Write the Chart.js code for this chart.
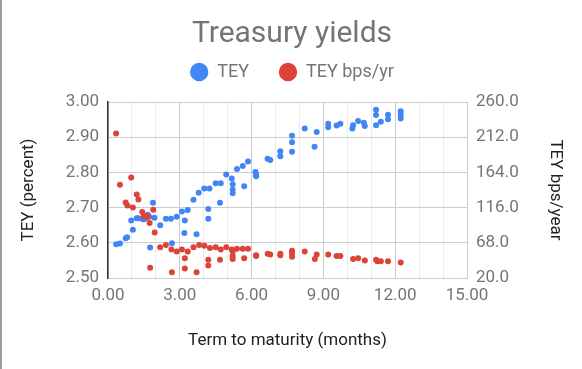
<!DOCTYPE html>
<html>
<head>
<meta charset="utf-8">
<script src="https://cdn.jsdelivr.net/npm/chart.js@4"></script>
<style>
  html, body { margin: 0; padding: 0; background: #fff; }
  #wrap { width: 582px; height: 369px; position: relative; box-sizing: border-box; border-left: 2px solid #9e9e9e; }
</style>
</head>
<body>
<div id="wrap"><canvas id="yieldChart" width="580" height="369"></canvas></div>
<script>
// term to maturity (months) and TEY (percent)
var teyTerm = [0.34, 0.50, 0.74, 0.80, 0.97, 1.04, 1.20, 1.27, 1.46, 1.51, 1.58, 1.66, 1.72, 1.76, 1.88, 1.94,
  2.18, 2.42, 2.63, 2.67, 2.87, 3.09, 3.19, 3.21, 3.33, 3.57, 3.70, 3.79, 4.02, 4.19, 4.19, 4.24, 4.50, 4.68,
  4.71, 4.94, 5.17, 5.21, 5.21, 5.21, 5.39, 5.63, 5.69, 5.85, 6.16, 6.19, 6.19, 6.67, 6.78, 7.20, 7.20, 7.69,
  7.69, 7.69, 8.22, 8.63, 8.72, 9.20, 9.20, 9.55, 9.71, 10.21, 10.24, 10.45, 10.69, 10.73, 11.20, 11.20, 11.20,
  11.40, 11.70, 11.70, 12.23, 12.23, 12.23];
var teyValue = [2.596, 2.598, 2.613, 2.616, 2.663, 2.637, 2.670, 2.670, 2.667, 2.667, 2.670, 2.680, 2.674, 2.587, 2.714, 2.671,
  2.650, 2.668, 2.668, 2.599, 2.674, 2.689, 2.628, 2.663, 2.693, 2.722, 2.624, 2.742, 2.754, 2.696, 2.668, 2.754, 2.769, 2.714,
  2.769, 2.794, 2.783, 2.766, 2.751, 2.741, 2.810, 2.818, 2.761, 2.831, 2.801, 2.794, 2.789, 2.839, 2.835, 2.860, 2.846, 2.904,
  2.886, 2.859, 2.925, 2.873, 2.915, 2.938, 2.928, 2.933, 2.938, 2.925, 2.934, 2.946, 2.941, 2.932, 2.978, 2.963, 2.934,
  2.944, 2.964, 2.951, 2.974, 2.963, 2.953];

// term to maturity (months) and TEY bps/yr
var bpsTerm = [0.34, 0.50, 0.74, 0.81, 0.97, 1.04, 1.20, 1.27, 1.43, 1.50, 1.58, 1.66, 1.74, 1.76, 1.89, 1.95,
  2.18, 2.42, 2.65, 2.67, 2.87, 3.09, 3.21, 3.21, 3.33, 3.57, 3.70, 3.81, 4.03, 4.19, 4.19, 4.26, 4.50, 4.68,
  4.71, 4.94, 5.17, 5.21, 5.21, 5.21, 5.39, 5.63, 5.69, 5.85, 6.19, 6.19, 6.67, 6.78, 7.20, 7.20, 7.69, 7.69,
  7.69, 8.22, 8.64, 8.72, 9.20, 9.55, 9.71, 10.24, 10.45, 10.73, 11.20, 11.25, 11.40, 11.70, 12.23];
var bpsValue = [217, 147, 123, 119, 157, 116, 134, 127, 110, 104, 104, 104, 95, 34, 113, 82,
  62, 65, 59, 28, 56, 59, 47, 33, 56, 62, 28, 65, 64, 45, 37, 61, 62, 45,
  59, 62, 59, 56, 50, 46, 60, 60, 47, 60, 50, 51, 53, 52, 53, 51, 57, 53,
  49, 56, 46, 52, 52, 50, 50, 46, 47, 44, 45, 43, 43, 43, 41];

var leftTicks = [2.50, 2.60, 2.70, 2.80, 2.90, 3.00];
var rightTicks = [20, 68, 116, 164, 212, 260];

function toPoints(xs, ys) {
  return xs.map(function (x, i) { return { x: x, y: ys[i] }; });
}

Chart.defaults.font.family = 'Roboto';

// a bit more room between the legend and the plot
var legendGap = {
  id: 'legendGap',
  beforeInit: function (chart) {
    var fit = chart.legend.fit;
    chart.legend.fit = function () {
      fit.call(this);
      this.height += 11;
    };
  }
};

// chart rendering

var ctx = document.getElementById('yieldChart').getContext('2d');
var chart = new Chart(ctx, {
  type: 'scatter',
  data: {
    datasets: [{
      label: 'TEY',
      data: toPoints(teyTerm, teyValue),
      backgroundColor: '#4285f4',
      borderWidth: 0,
      pointRadius: 3,
      order: 1,
      yAxisID: 'y'
    }, {
      label: 'TEY bps/yr',
      data: toPoints(bpsTerm, bpsValue),
      backgroundColor: '#db4437',
      borderWidth: 0,
      pointRadius: 3,
      order: 0,
      yAxisID: 'y1'
    }]
  },
  options: {
    responsive: false,
    animation: false,
    plugins: {
      title: {
        display: true,
        text: 'Treasury yields',
        color: '#757575',
        font: { size: 30, weight: 'normal' },
        padding: { top: 16, bottom: -19 }
      },
      legend: {
        labels: {
          usePointStyle: true,
          pointStyle: 'circle',
          boxWidth: 18,
          boxHeight: 13,
          color: '#757575',
          font: { size: 18 },
          padding: 30,
          sort: function (a, b) { return a.datasetIndex - b.datasetIndex; }
        }
      },
      tooltip: { enabled: false }
    },
    scales: {
      x: {
        type: 'linear',
        position: 'bottom',
        min: 0,
        max: 15,
        ticks: {
          stepSize: 1,
          color: '#757575',
          font: { size: 17 },
          padding: 8,
          maxRotation: 0,
          autoSkip: false,
          callback: function (v) { return v % 3 === 0 ? v.toFixed(2) : ''; }
        },
        grid: {
          drawTicks: false,
          color: function (c) { return c.tick && c.tick.value % 3 === 0 ? '#cccccc' : '#ebebeb'; }
        },
        border: { color: '#cccccc' },
        title: {
          display: true,
          text: 'Term to maturity (months)',
          color: '#222222',
          font: { size: 17 },
          padding: { top: 0, bottom: 18 }
        },
        afterFit: function (scale) { scale.height = 91; }
      },
      y: {
        position: 'left',
        min: leftTicks[0],
        max: leftTicks[leftTicks.length - 1],
        ticks: {
          stepSize: 0.1,
          color: '#757575',
          font: { size: 17 },
          padding: 9,
          callback: function (v) { return v.toFixed(2); }
        },
        grid: { drawTicks: false, color: '#cccccc' },
        border: { color: '#333333', width: 1.5 },
        title: {
          display: true,
          text: 'TEY (percent)',
          color: '#222222',
          font: { size: 17 },
          padding: { top: 17, bottom: 0 }
        },
        afterFit: function (scale) { scale.width = 106; }
      },
      y1: {
        position: 'right',
        min: rightTicks[0],
        max: rightTicks[rightTicks.length - 1],
        ticks: {
          stepSize: 48,
          color: '#757575',
          font: { size: 17 },
          padding: 9,
          callback: function (v) { return v.toFixed(1); }
        },
        grid: { display: false, drawTicks: false },
        border: { display: false },
        title: {
          display: true,
          text: 'TEY bps/year',
          color: '#222222',
          font: { size: 17 },
          padding: { top: 17, bottom: 0 }
        },
        afterFit: function (scale) { scale.width = 115; }
      }
    }
  },
  plugins: [legendGap]
});
</script>
</body>
</html>
